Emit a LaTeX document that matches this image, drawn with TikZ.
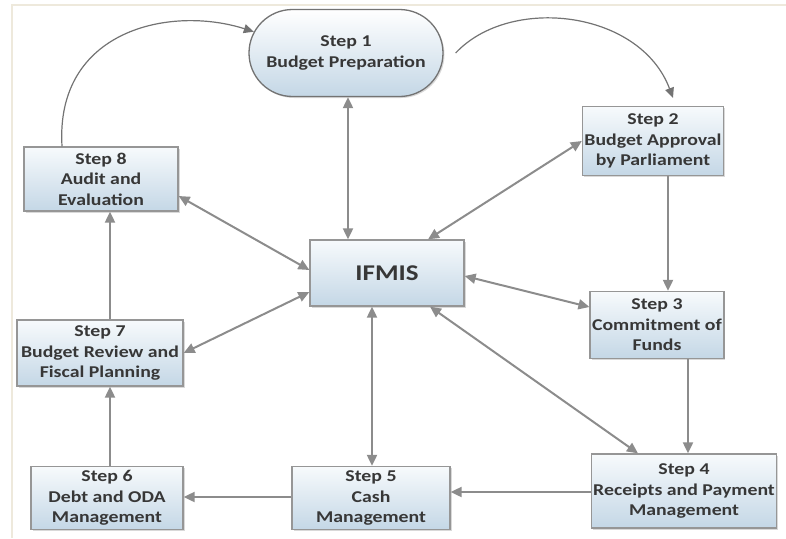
\documentclass[tikz,border=0pt]{standalone}
\usepackage{fontspec}
\setmainfont{Carlito}[FakeStretch=1.2]
\usetikzlibrary{positioning, arrows.meta, shapes.misc, shadows}
\definecolor{boxline}{RGB}{150, 150, 150}
\definecolor{boxtop}{RGB}{247, 250, 252}
\definecolor{boxbottom}{RGB}{196, 215, 230}
\definecolor{arrowgray}{RGB}{140, 140, 140}
\definecolor{curvegray}{RGB}{115, 115, 115}
\definecolor{textgray}{RGB}{55, 55, 55}
\definecolor{framebeige}{RGB}{238, 233, 220}
\tikzset{
  stepbox/.style={
    draw=boxline,
    line width=1.3pt,
    top color=boxtop,
    bottom color=boxbottom,
    drop shadow={shadow xshift=1.5pt, shadow yshift=-1.5pt, opacity=0.3},
    align=center,
    inner sep=2pt,
    text=textgray,
    font=\fontsize{16.5}{20.5}\selectfont\bfseries
  },
  startbox/.style={
    stepbox,
    rounded rectangle,
    draw=curvegray,
    top color=white,
    bottom color=boxbottom
  },
  biarrow/.style={
    {Triangle[length=11pt,width=10pt]}-{Triangle[length=11pt,width=10pt]},
    line width=2pt,
    draw=arrowgray
  },
  flow/.style={
    -{Triangle[length=11pt,width=10pt]},
    line width=2pt,
    draw=arrowgray
  },
  cycle/.style={
    -{Triangle[length=10pt,width=9pt]},
    line width=1.2pt,
    draw=curvegray
  }
}

\begin{document}
\begin{tikzpicture}[x=1pt, y=-1pt]
  \useasboundingbox (0,0) rectangle (786,538);
  \draw[framebeige, line width=1.2pt] (12,538) |- (786,5);

  \node[startbox, minimum width=198pt, minimum height=87pt] (step1) at (346,53) {Step 1\\Budget Preparation};
  \node[stepbox, minimum width=118pt, minimum height=69pt] (step2) at (653,141) {Step 2\\Budget Approval\\by Parliament};
  \node[stepbox, minimum width=154pt, minimum height=66pt, font=\fontsize{22.5}{26}\selectfont\bfseries] (ifmis) at (387,273) {IFMIS};
  \node[stepbox, minimum width=127pt, minimum height=67pt] (step3) at (657,325) {Step 3\\Commitment of\\Funds};
  \node[stepbox, minimum width=183pt, minimum height=74pt] (step4) at (684,491) {Step 4\\Receipts and Payment\\Management};
  \node[stepbox, minimum width=158pt, minimum height=63pt] (step5) at (371,498) {Step 5\\Cash\\Management};
  \node[stepbox, minimum width=152pt, minimum height=63pt] (step6) at (107,498) {Step 6\\Debt and ODA\\Management};
  \node[stepbox, minimum width=166pt, minimum height=66pt] (step7) at (100,353) {Step 7\\Budget Review and\\Fiscal Planning};
  \node[stepbox, minimum width=154pt, minimum height=64pt] (step8) at (101,179) {Step 8\\Audit and\\Evaluation};

  % links to the hub
  \path ([xshift=2pt]step1.south) edge[biarrow] ([xshift=-39pt]ifmis.north)
        ([xshift=41pt]ifmis.north) edge[biarrow] (step2.west)
        ([yshift=-3pt]ifmis.east) edge[biarrow] ([yshift=18pt]step3.west)
        ([xshift=43pt]ifmis.south) edge[biarrow] ([xshift=-46pt]step4.north)
        ([xshift=-15pt]ifmis.south) edge[biarrow] ([xshift=1pt]step5.north)
        ([yshift=-19pt]ifmis.west) edge[biarrow] (step7.east)
        ([yshift=3pt]ifmis.west) edge[biarrow] ([yshift=-17pt]step8.east);

  % the cycle of steps
  \path ([xshift=15pt]step2.south) edge[flow] ([xshift=11pt]step3.north)
        ([xshift=31pt]step3.south) edge[flow] ([xshift=4pt]step4.north)
        ([yshift=-1pt]step4.west) edge[flow] ([yshift=6pt]step5.east)
        ([yshift=1pt]step5.west) edge[flow] ([yshift=1pt]step6.east)
        ([xshift=3pt]step6.north) edge[flow] ([xshift=10pt]step7.south)
        ([xshift=10pt]step7.north) edge[flow] ([xshift=9pt]step8.south);

  \draw[cycle] ([xshift=-39pt]step8.north) .. controls (55,30) and (170,5) .. (step1.167);
  \draw[cycle] ([xshift=12pt]step1.east) .. controls (510,-5) and (640,10) .. ([xshift=20pt,yshift=8pt]step2.north);
\end{tikzpicture}
\end{document}
